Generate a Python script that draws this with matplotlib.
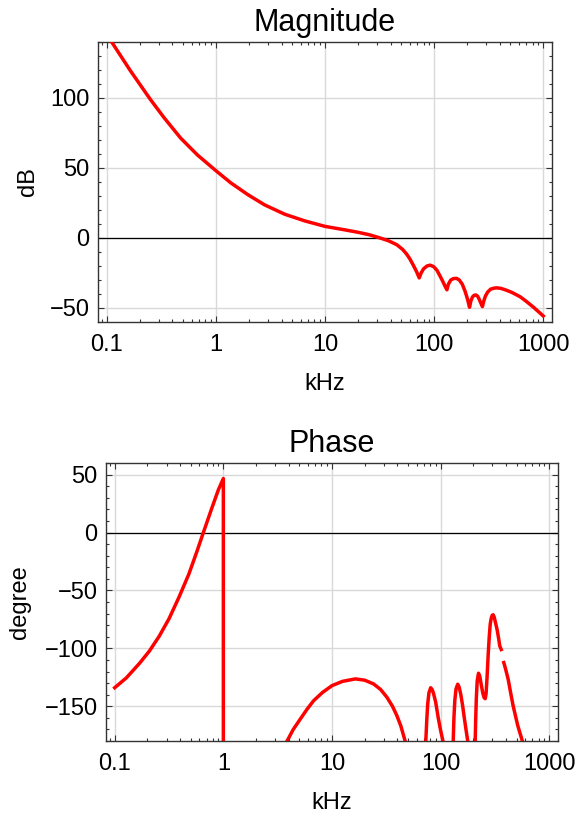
import numpy as np
import matplotlib
matplotlib.use("Agg")
import matplotlib.pyplot as plt
from matplotlib.ticker import FixedLocator, NullFormatter, LogLocator

plt.rcParams['font.family'] = ['Liberation Sans', 'DejaVu Sans']

# magnitude response (kHz, dB)
mag_khz = [0.111, 0.164, 0.251, 0.334, 0.475, 0.678, 1.0, 1.375, 1.96, 2.79,
           4.27, 6.53, 10.0, 15, 20, 25.5, 32, 38, 45.5, 51.5, 56, 60, 64.5,
           69, 73, 76, 80, 86, 92, 99, 106, 113, 120, 126, 131, 135, 142, 150,
           160, 170, 181, 192, 202, 211, 217, 225, 233, 241, 250, 258, 266, 277,
           285, 295, 310, 330, 355, 376, 410, 460, 520, 615, 700, 815, 1000]
mag_db = [140, 119.7, 99.0, 86.1, 71.4, 59.3, 48.1, 39.3, 31.0, 23.7,
          17.0, 12.2, 8.3, 5.9, 4.1, 2.3, 0.0, -1.9, -4.8, -8.2, -11.5, -15, -19.5,
          -24, -28.5, -25, -22, -20, -19.4, -20.5, -23, -27, -31, -34.5, -37, -33, -30, -29,
          -28.8, -30, -33, -38, -43.5, -49.5, -45, -42, -40.9, -40.7, -41.5, -43.5, -46, -49,
          -45, -41.5, -38.5, -36.5, -35.8, -35.6, -36, -37.3, -39, -42, -45.3, -49.5, -55.7]

# phase response, split into the visible pieces (wrapped at -180)
ph_khz_1 = [0.1, 0.128, 0.169, 0.208, 0.257, 0.316, 0.39, 0.481, 0.573, 0.644,
            0.783, 0.901, 1.0, 1.0]
ph_deg_1 = [-134, -125.5, -113, -102.5, -89.5, -74.5, -56, -36, -16, -2,
            21, 37, 46.6, -180]
ph_khz_2 = [3.86, 4.4, 5.12, 5.9, 6.79, 8.2, 10, 12.5, 16.4, 20, 24.1, 28, 32,
            36, 39.5, 43, 47.1]
ph_deg_2 = [-180, -170, -160.9, -152.5, -145.1, -138, -132.2, -128.5, -126.4,
            -127.5, -130.7, -135.5, -142.2, -150, -158, -167, -180]
ph_khz_3 = [73, 74.5, 76, 78, 80.9, 83.5, 86, 90, 95, 100, 105]
ph_deg_3 = [-180, -162, -148, -138.5, -134, -135.5, -139, -146.5, -160, -171, -180]
ph_khz_4 = [130.5, 132.5, 135, 138.5, 143.5, 148, 153, 159, 165, 171, 177.5]
ph_deg_4 = [-180, -160, -145, -135, -131, -133.5, -139.5, -149, -160, -170, -180]
ph_khz_5 = [208, 210, 213, 217, 223, 229, 236, 244, 251, 257, 262, 267, 274,
            280, 286, 292, 298, 304, 311, 320, 331, 341, 350, 361]
ph_deg_5 = [-180, -162, -143, -128, -121.5, -124, -131, -138.5, -142.5, -143.5,
            -139, -126, -105, -90, -79, -74, -71.5, -71, -73, -78, -84, -91, -98, -101]
ph_khz_6 = [381, 395, 418, 440, 464, 512, 565]
ph_deg_6 = [-112.3, -117.5, -126.6, -138, -149.4, -166.6, -180]

x_ticks = [0.1, 1, 10, 100, 1000]
x_labels = ["0.1", "1", "10", "100", "1000"]
mag_ticks = [-50, 0, 50, 100]
mag_labels = ["\u221250", "0", "50", "100"]
ph_ticks = [-150, -100, -50, 0, 50]
ph_labels = ["\u2212150", "\u2212100", "\u221250", "0", "50"]

RED = (1, 0, 0)
LW = 2.5
FS = 17
TFS = 22


def style(ax, yticks, ylabels, yminor, ylim):
    ax.set_xscale('log')
    ax.set_xlim(10 ** -1.08, 10 ** 3.08)
    ax.set_ylim(*ylim)
    ax.set_xticks(x_ticks, x_labels)
    ax.xaxis.set_minor_locator(LogLocator(base=10, subs=np.arange(2, 10)))
    ax.xaxis.set_minor_formatter(NullFormatter())
    ax.set_yticks(yticks, ylabels)
    ax.yaxis.set_minor_locator(FixedLocator(yminor))
    ax.grid(True, which='major', color='#d9d9d9', lw=1.0)
    ax.set_axisbelow(True)
    ax.axhline(0, color='black', lw=0.9, zorder=2)
    ax.tick_params(which='both', direction='in', top=True, right=True,
                   labelsize=FS, color='#333333', width=0.8)
    ax.tick_params(which='major', length=4.5, pad=6)
    ax.tick_params(axis='x', which='major', pad=9)
    ax.tick_params(which='minor', length=2.5)
    for s in ax.spines.values():
        s.set_color('#333333')
        s.set_linewidth(1.0)


fig = plt.figure(figsize=(5.78, 8.19), dpi=100)

ax1 = fig.add_axes([98 / 578, 1 - 322 / 819, 454 / 578, 280 / 819])
style(ax1, mag_ticks, mag_labels, np.arange(-60, 141, 10), (-60, 140))
ax1.plot(mag_khz, mag_db, color=RED, lw=LW, zorder=3)
ax1.set_title("Magnitude", fontsize=TFS, pad=8)
ax1.set_xlabel("kHz", fontsize=FS, labelpad=12)
ax1.set_ylabel("dB", fontsize=FS, labelpad=8)

ax2 = fig.add_axes([106 / 578, 1 - 741 / 819, 452 / 578, 278 / 819])
style(ax2, ph_ticks, ph_labels, np.arange(-180, 61, 10), (-180, 60))
for fx, dy in [(ph_khz_1, ph_deg_1), (ph_khz_2, ph_deg_2), (ph_khz_3, ph_deg_3),
               (ph_khz_4, ph_deg_4), (ph_khz_5, ph_deg_5), (ph_khz_6, ph_deg_6)]:
    ax2.plot(fx, dy, color=RED, lw=LW, zorder=3)
ax2.set_title("Phase", fontsize=TFS, pad=8)
ax2.set_xlabel("kHz", fontsize=FS, labelpad=12)
ax2.set_ylabel("degree", fontsize=FS, labelpad=10)

fig.savefig("out.png", dpi=100)
